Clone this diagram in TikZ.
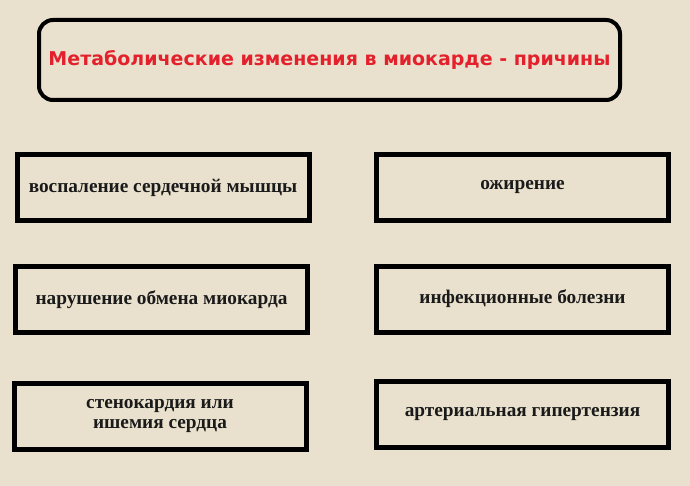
\documentclass[tikz,border=0pt]{standalone}
\usepackage{fontspec}
\setmainfont{Liberation Serif}
\newfontfamily\headfont{DejaVu Sans}
\usepackage{xcolor}
\definecolor{parchment}{HTML}{E9E1CD}
\definecolor{frameink}{HTML}{000000}
\definecolor{causeink}{HTML}{1A1A1A}
\definecolor{headred}{HTML}{E3202B}

\begin{document}
\begin{tikzpicture}[
  x=1pt,
  y=-1pt,
  headbox/.style={draw=frameink, line width=4pt, rounded corners=14pt,
    minimum width=581pt, minimum height=80pt, inner sep=0pt,
    text=headred, font=\headfont\bfseries\fontsize{19}{22}\selectfont},
  causebox/.style={draw=frameink, line width=5pt, inner sep=0pt,
    minimum width=292pt, minimum height=66pt, align=center,
    text=causeink, font=\bfseries\fontsize{19.3}{20}\selectfont}
]
  % ---- page -------------------------------------------------------------
  \fill[parchment] (0,0) rectangle (690,486);
  \useasboundingbox (0,0) rectangle (690,486);

  % ---- heading ----------------------------------------------------------
  \node[headbox] (head) at (329.5,60)
    {Метаболические изменения в миокарде - причины};

  % ---- causes, left column ----------------------------------------------
  \node[causebox] (inflam) at (163,188) {воспаление сердечной мышцы};
  \node[causebox] (metab) at (161.5,299.5) {нарушение обмена миокарда};
  \node[causebox] (angina) at (160,416) {стенокардия или\\ишемия сердца};

  % ---- causes, right column ---------------------------------------------
  \node[causebox] (obes) at (522.5,187.5) {ожирение};
  \node[causebox] (infect) at (522.5,299) {инфекционные болезни};
  \node[causebox] (hyper) at (522.5,414) {артериальная гипертензия};
\end{tikzpicture}
\end{document}
